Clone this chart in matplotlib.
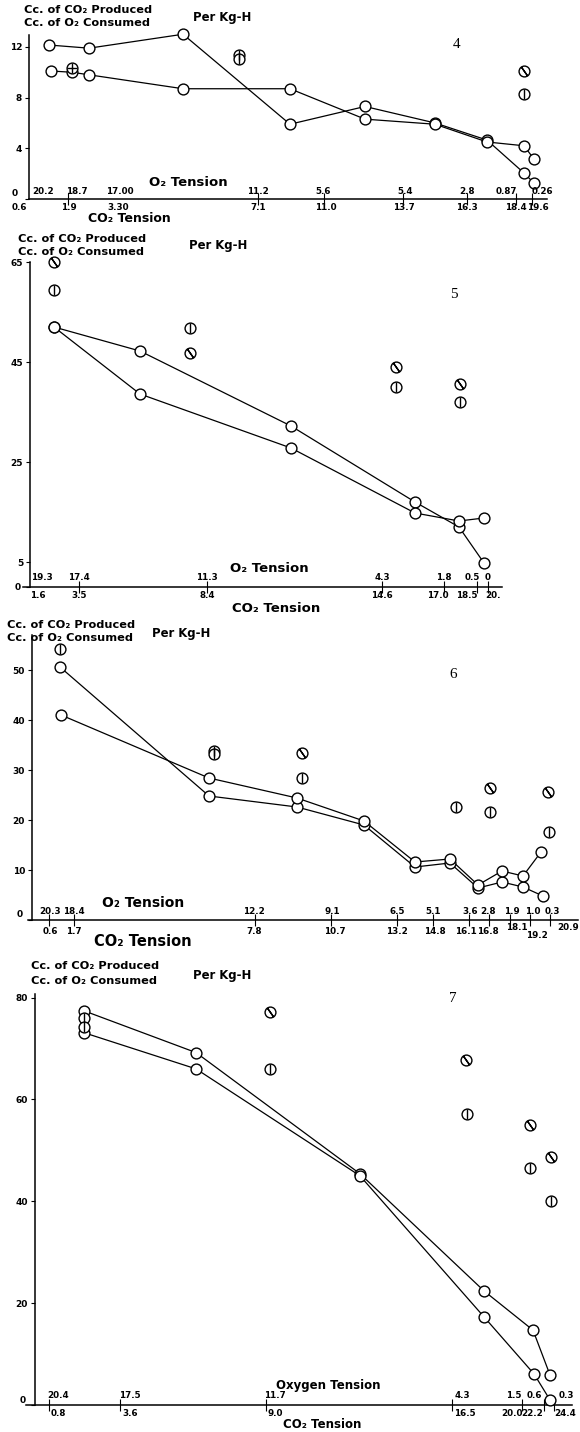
import matplotlib
matplotlib.use("Agg")
import matplotlib.pyplot as plt
import matplotlib.transforms as mtransforms

W, H = 580, 1432

# x values are positions along the run (time axis of the original record),
# the tension labels are only markers along that axis.

# ---- panel 4 ----
t4_a = [20, 60, 154, 261, 336, 406, 458, 495, 505]
y4_a = [12.15, 11.9, 13.0, 5.9, 7.3, 6.0, 4.65, 2.05, 1.25]
t4_b = [22, 43, 60, 154, 261, 336, 406, 458, 495, 505]
y4_b = [10.1, 10.0, 9.8, 8.7, 8.7, 6.3, 5.9, 4.5, 4.2, 3.15]
t4_vert = [210, 210, 495]
y4_vert = [11.35, 11.05, 8.3]
t4_slash = [495]
y4_slash = [10.1]
t4_plus = [43]
y4_plus = [10.35]
ticks4 = [39, 229, 295, 374, 438, 487, 503]
o2_lab4 = ['20.2', '18.7', '17.00', '11.2', '5.6', '5.4', '2.8', '0.87', '0.26']
o2_pos4 = [14, 48, 91, 229, 294, 376, 438, 477, 513]
co2_lab4 = ['0.6', '1.9', '3.30', '7.1', '11.0', '13.7', '16.3', '18.4', '19.6']
co2_pos4 = [-10, 40, 89, 229, 297, 375, 438, 487, 509]
yt4 = [0, 4, 8, 12]

# ---- panel 5 ----
t5_a = [24, 110, 261, 385, 429, 454]
y5_a = [52, 47.2, 32.2, 17, 12, 4.8]
t5_b = [24, 110, 261, 385, 429, 454]
y5_b = [52, 38.6, 27.8, 14.8, 13.2, 13.8]
t5_vert = [24, 160, 366, 430]
y5_vert = [59.5, 51.8, 40, 37]
t5_slash = [24, 160, 366, 430]
y5_slash = [65, 46.8, 44, 40.6]
ticks5 = [49, 177, 352, 414, 447, 458]
o2_lab5 = ['19.3', '17.4', '11.3', '4.3', '1.8', '0.5', '0']
o2_pos5 = [12, 49, 177, 352, 414, 442, 458]
co2_lab5 = ['1.6', '3.5', '8.4', '14.6', '17.0', '18.5', '20.']
co2_pos5 = [8, 49, 177, 352, 408, 437, 463]
yt5 = [0, 5, 25, 45, 65]

# ---- panel 6 ----
t6_a = [28, 177, 265, 332, 383, 418, 446, 470, 491, 511]
y6_a = [50.6, 24.8, 22.6, 19, 10.6, 11.4, 6.4, 7.6, 6.6, 4.8]
t6_b = [29, 177, 265, 332, 383, 418, 446, 470, 491, 509]
y6_b = [41, 28.4, 24.4, 19.8, 11.6, 12.2, 7, 9.8, 8.8, 13.6]
t6_vert = [28, 182, 182, 270, 424, 458, 517]
y6_vert = [54.2, 33.8, 33.2, 28.4, 22.6, 21.6, 17.6]
t6_slash = [270, 458, 516]
y6_slash = [33.4, 26.4, 25.6]
ticks6 = [17, 42, 223, 299, 365, 401, 437, 457, 478, 498, 518]
o2_lab6 = ['20.3', '18.4', '12.2', '9.1', '6.5', '5.1', '3.6', '2.8', '1.9', '1.0', '0.3']
o2_pos6 = [18, 42, 222, 300, 365, 401, 438, 456, 480, 501, 520]
co2_lab6 = ['0.6', '1.7', '7.8', '10.7', '13.2', '14.8', '16.1', '16.8', '18.1', '19.2', '20.9']
co2_pos6 = [18, 42, 222, 303, 365, 403, 434, 456, 485, 505, 536]
yt6 = [0, 10, 20, 30, 40, 50]

# ---- panel 7 ----
t7_a = [49, 161, 325, 449, 498, 515]
y7_a = [77.4, 69.2, 45.4, 22.4, 14.7, 5.9]
t7_b = [49, 161, 325, 449, 499, 515]
y7_b = [73.1, 66, 45, 17.3, 6.1, 1]
t7_vert = [49, 49, 235, 432, 495, 516]
y7_vert = [76, 74.3, 66, 57.2, 46.6, 40.1]
t7_slash = [235, 431, 495, 516]
y7_slash = [77.2, 67.8, 55, 48.7]
ticks7 = [14, 85, 231, 417, 487, 509, 519]
o2_lab7 = ['20.4', '17.5', '11.7', '4.3', '1.5', '0.6', '0.3']
o2_pos7 = [23, 95, 240, 427, 479, 499, 531]
co2_lab7 = ['0.8', '3.6', '9.0', '16.5', '20.0', '22.2', '24.4']
co2_pos7 = [23, 95, 240, 430, 477, 497, 530]
yt7 = [0, 20, 40, 60, 80]

plt.rcParams['font.family'] = ['DejaVu Sans']
fig = plt.figure(figsize=(W / 100, H / 100), dpi=100)


def fx(px):
    return px / W


def fy(py):
    return 1 - py / H


def panel(box, xlim, ylim, yt, a, b, vert, slash, ticks, o2, co2, lay):
    left, top, right, bottom = box
    ax = fig.add_axes([fx(left), fy(bottom), (right - left) / W, (bottom - top) / H])
    ax.set_xlim(*xlim)
    ax.set_ylim(*ylim)
    for s in ['top', 'right']:
        ax.spines[s].set_visible(False)
    ax.spines['left'].set_position(('data', 0))
    ax.spines['left'].set_linewidth(1.1)
    ax.spines['bottom'].set_linewidth(1.1)
    ax.set_yticks(yt)
    ax.set_yticklabels([str(v) for v in yt], fontsize=6.5, fontweight='bold')
    ax.tick_params(axis='y', direction='out', length=3, width=0.8, pad=2)
    # the zero label sits a little above the axis line in the original
    zl = ax.get_yticklabels()[0]
    zl.set_transform(zl.get_transform() + mtransforms.ScaledTranslation(
        -lay.get('zero_dx', 0) / 72, lay.get('zero_dy', 0) / 72, fig.dpi_scale_trans))
    ax.set_xticks(ticks)
    ax.set_xticklabels([])
    ax.tick_params(axis='x', direction='inout', length=8, width=0.8)
    ax.patch.set_alpha(0)

    mk = dict(marker='o', ms=7.8, mfc='white', mec='black', mew=1.0, clip_on=False)
    for tt, yy in (a, b):
        ax.plot(tt, yy, color='black', lw=0.9, zorder=2, clip_on=False)
        ax.plot(tt, yy, ls='none', zorder=3, **mk)
    ax.plot(vert[0], vert[1], ls='none', zorder=3, **mk)
    ax.plot(vert[0], vert[1], ls='none', marker='|', ms=7.8, mew=1.0,
            color='black', zorder=4, clip_on=False)
    ax.plot(slash[0], slash[1], ls='none', zorder=3, **mk)
    ax.plot(slash[0], slash[1], ls='none', marker=(2, 2, 35), ms=7.8, mew=1.0,
            color='black', zorder=4, clip_on=False)

    tr = mtransforms.blended_transform_factory(ax.transData, fig.transFigure)
    for lab, p in zip(*o2):
        ax.text(p, fy(lay['o2_y']), lab, transform=tr, ha='center', va='center',
                fontsize=6.3, fontweight='bold')
    for i, (lab, p) in enumerate(zip(*co2)):
        dy = lay.get('co2_dy', {}).get(i, 0)
        ax.text(p, fy(lay['co2_y'] + dy), lab, transform=tr, ha='center', va='center',
                fontsize=6.3, fontweight='bold')
    ax.text(lay['o2_name'][0], fy(lay['o2_name'][1]), lay['o2_text'], transform=tr,
            ha='center', va='center', fontsize=lay['o2_fs'], fontweight='bold')
    ax.text(lay['co2_name'][0], fy(lay['co2_name'][1]), 'CO₂ Tension', transform=tr,
            ha='center', va='center', fontsize=lay['co2_fs'], fontweight='bold')

    tx, ty1, ty2, px, py = lay['title']
    fig.text(fx(tx), fy(ty1), 'Cc. of CO₂ Produced', ha='left', va='center',
             fontsize=8.2, fontweight='bold')
    fig.text(fx(tx), fy(ty2), 'Cc. of O₂ Consumed', ha='left', va='center',
             fontsize=8.2, fontweight='bold')
    fig.text(fx(px), fy(py), 'Per Kg-H', ha='left', va='center',
             fontsize=8.4, fontweight='bold')
    fig.text(fx(lay['num'][1]), fy(lay['num'][2]), lay['num'][0], ha='center',
             va='center', fontsize=11, family='Liberation Serif')
    return ax


ax4 = panel((29, 35, 547, 199), (0, 518), (0, 12.94), yt4,
            (t4_a, y4_a), (t4_b, y4_b), (t4_vert, y4_vert), (t4_slash, y4_slash),
            ticks4, (o2_lab4, o2_pos4), (co2_lab4, co2_pos4),
            dict(o2_y=192, co2_y=207, o2_name=(159, 182), o2_text='O₂ Tension',
                 o2_fs=9.5, co2_fs=9, zero_dy=5, zero_dx=3,
                 co2_name=(100, 219), title=(24, 10, 23, 193, 17), num=('4', 457, 45)))
ax4.plot(t4_plus, y4_plus, ls='none', marker='o', ms=7.8, mfc='white', mec='black',
         mew=1.0, zorder=3, clip_on=False)
ax4.plot(t4_plus, y4_plus, ls='none', marker='+', ms=7.8, mew=1.0, color='black',
         zorder=4, clip_on=False)

panel((23, 262, 502, 587), (-7, 472), (0, 65), yt5,
      (t5_a, y5_a), (t5_b, y5_b), (t5_vert, y5_vert), (t5_slash, y5_slash),
      ticks5, (o2_lab5, o2_pos5), (co2_lab5, co2_pos5),
      dict(o2_y=577, co2_y=596, o2_name=(239, 568), o2_text='O₂ Tension',
           o2_fs=9.5, co2_fs=9.5, zero_dx=2,
           co2_name=(246, 608), title=(18, 239, 252, 189, 245), num=('5', 454, 294)))

panel((28, 635, 578, 920), (-4, 546), (0, 57), yt6,
      (t6_a, y6_a), (t6_b, y6_b), (t6_vert, y6_vert), (t6_slash, y6_slash),
      ticks6, (o2_lab6, o2_pos6), (co2_lab6, co2_pos6),
      dict(o2_y=912, co2_y=931, co2_dy={8: -3, 9: 4, 10: -3}, o2_name=(111, 903),
           o2_text='O₂ Tension', o2_fs=10, co2_fs=10.5, zero_dy=5, zero_dx=2,
           co2_name=(111, 942), title=(7, 625, 638, 152, 634),
           num=('6', 453, 675)))

panel((26, 994, 572, 1405), (-9, 537), (0, 80.7), yt7,
      (t7_a, y7_a), (t7_b, y7_b), (t7_vert, y7_vert), (t7_slash, y7_slash),
      ticks7, (o2_lab7, o2_pos7), (co2_lab7, co2_pos7),
      dict(o2_y=1395, co2_y=1414, o2_name=(293, 1385), o2_text='Oxygen Tension',
           o2_fs=8.5, co2_fs=8.5, zero_dy=4, zero_dx=2,
           co2_name=(287, 1425), title=(31, 966, 981, 193, 975), num=('7', 453, 999)))

fig.savefig('out.png', dpi=100)
